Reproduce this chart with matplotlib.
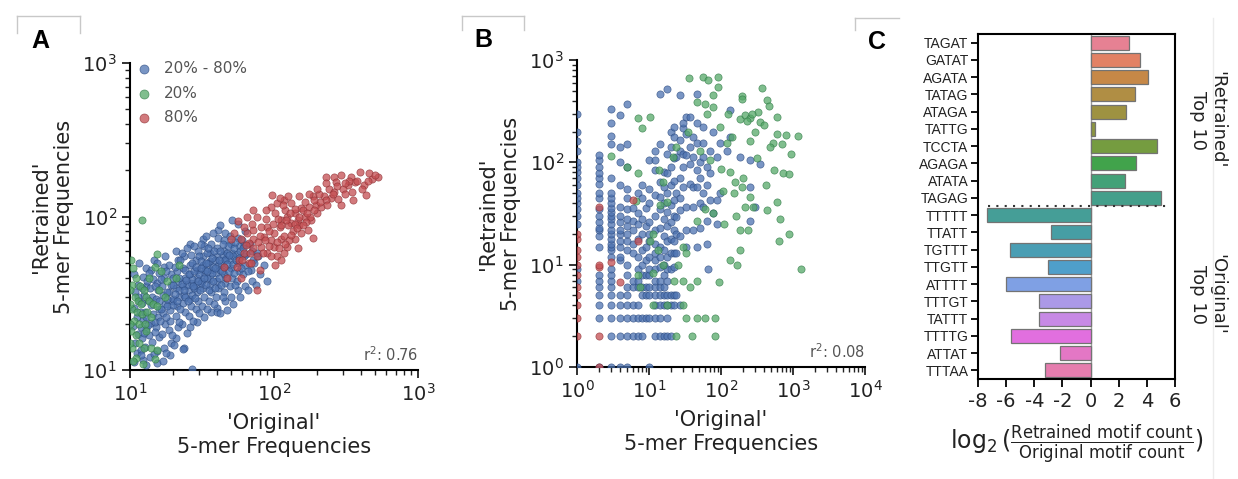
import matplotlib
matplotlib.use('Agg')
import matplotlib.pyplot as plt
import seaborn as sns
from matplotlib.lines import Line2D
from matplotlib.ticker import LogLocator, NullFormatter
from matplotlib.transforms import blended_transform_factory

# ---------------- data ----------------
# Panel A : 'Original' vs 'Retrained' 5-mer frequencies
a_blue = [(10.6,11.3),(11.2,12.9),(10.9,15.1),(11.4,17.2),(10.5,19.4),(11.1,22),(10.7,25.3),(11.5,28),(10.9,32),(11.3,36),(10.6,42),(11.6,50),
          (12.3,11.6),(12.8,14.2),(12.2,16.1),(12.9,18.4),(12.4,21.3),(12.7,24),(12.1,27.5),(12.6,31),(13,35),(12.4,40.5),(12.9,46),
          (13.8,12.1),(14.3,15.2),(13.6,17),(14.1,20.2),(14.5,23),(13.9,26.4),(14.2,30),(13.7,34),(14.4,39),(14,45),(14.6,52),
          (15.3,13.2),(15.8,16.3),(15.1,19),(15.6,22.2),(15.9,25),(15.2,29),(15.7,33),(15.4,37),(16,43),(15.5,50),
          (17.2,14),(16.7,17.2),(17.5,20),(16.9,23.4),(17.4,27),(17,31),(16.6,35),(17.3,40),(17.1,47),(17.6,55),
          (19.3,15),(18.7,18.1),(19.1,21),(18.9,24.5),(19.5,28),(18.6,32),(19.2,36),(19.4,42),(18.8,48),
          (21,16.2),(21.6,19),(20.8,22.4),(21.3,26),(21.8,30),(20.9,34),(21.5,38),(21.2,44),(21.7,52),(21,60),
          (23.6,14),(23.1,20),(24,24),(23.4,27.3),(23.8,31),(23.2,35),(24.2,40),(23.5,46),(23.9,55),
          (26.3,19),(25.7,22.5),(26.6,26),(26,29),(25.8,33),(26.5,37),(26.1,42),(25.9,48),(26.4,56),(26.2,66),
          (29.3,20.5),(28.7,25),(29.6,28),(29,32),(28.8,36),(29.4,40),(29.1,45),(28.9,52),(29.5,60),
          (32.4,22),(31.8,26),(32.7,30),(32,34),(31.7,38),(32.5,43),(32.2,48),(31.9,55),(32.6,64),(32.3,71),
          (36.4,24),(35.6,28),(36.8,32),(36,36),(35.8,40),(36.6,45),(36.2,51),(35.9,58),(36.5,66),
          (40.5,25.5),(39.6,30),(40.9,34),(40.1,38),(39.8,43),(40.7,48),(40.3,55),(39.9,62),(40.6,72),(41,82),
          (45.5,28),(44.6,32),(45.9,37),(45,42),(44.8,47),(45.7,53),(45.2,60),(44.9,70),(45.8,78),
          (50.6,30),(49.5,35),(51,40),(50.2,46),(49.8,52),(50.8,58),(50.3,66),(49.7,75),(51.2,95),
          (56.5,33),(55.4,38),(57,44),(56,50),(55.6,57),(56.8,64),(56.2,72),(55.8,90),
          (62.5,35),(61.4,42),(63,48),(62,55),(61.6,65),(62.8,80),
          (70.5,38),(69.5,45),(71,52),(70,60),(80,42),(78,55),(85,48),(90,38),
          (26.9,10.2),(40,24),(42.5,23.4),(47,24.5),(23.5,13.8),(15.3,11.1),(19,12.5),(17,11.5),(13,10.8),
          (52,27),(58,30),(66,33),(75,36),
          (18,26),(20,29),(22,33),(24,30),(25,36),(27,39),(28,34),(30,42),(31,37),(33,45),(34,40),(35,50),
          (37,43),(38,47),(39,52),(42,45),(43,50),(44,56),(46,52),(47,58),(48,64),(52,55),(53,62),(54,68),
          (58,60),(60,70),(20,36),(22,40),(24,45),(27,50),(30,55),(34,58),(16,28),(18,32),(13,22),(12,19),
          (11.8,24),(14.8,20.5),(16.3,24.8),(13.3,28.5),
          (11.9,13.5),(12.6,17.5),(13.4,19.5),(14.9,17.8),(16.1,20.8),(17.8,22),(18.2,29),(19.8,26.5),(20.4,31.5),
          (21.1,28),(22.4,24.8),(22.8,36.5),(23.9,33),(24.6,38.5),(25.2,28),(25.5,42),(26.8,31),(27.4,35),(27.9,44),
          (28.2,29.5),(28.6,47),(29.8,38),(30.5,33),(30.9,46),(31.2,51),(32.9,40),(33.6,36),(33.8,50),(34.5,44),
          (34.9,62),(35.3,33),(36.9,54),(37.6,38),(38.2,60),(38.9,34),(39.2,46),(41.5,40),(41.8,52),(42.3,60),
          (42.9,36),(43.4,44),(44.1,66),(46.5,40),(47.5,49),(48.5,44),(48.9,56),(51.8,49),(52.5,43),(53.5,36),
          (54.5,52),(57.5,54),(59,46),(60.5,62),(64,57),(66,44),(68,66),(73,50),(76,58),(11.3,30),(12.2,34),
          (13.1,38),(13.6,43),(15,35),(16.4,39),(17.9,44),(19.9,40),(20.5,47),(22.3,52),(23,58),(25,62),(28,64),
          (31,66),(33.5,75),(37.5,78),(42,88),(19.6,17),(21.9,20.5),(24.7,17.5),(27.3,21),(30.2,23.5),(34.2,25),
          (38.5,27),(44,30),(17.8,13),(20.2,14.5),(12,12.5),(14.7,12.8)]
a_green = [(10.2,52),(10.5,46),(11,40),(10.3,36),(11.8,35),(12.5,33),(13,30),(10.8,30),(11.4,28),(12,27),(13.5,28),
           (14.5,27),(15.5,26),(10.4,25),(11.2,24),(12.2,23),(13.2,24),(14,22),(10.6,21),(11.6,20),(12.8,20),(10.2,18),
           (11,17),(13,18),(11.5,15),(12.5,14),(10.3,14),(14,14),(15.5,13.5),(11,12),(12.3,11),(10.5,11.5),(15,11.8),
           (12.1,95),(15.5,57),(14.8,47),(16.5,44),(18,38),(13.5,40),(16,33),(17.5,30),(10,33),(10,27),(10,20),(10,15),
           (22,48),(21,40)]
a_red = [(525,182),(458,192),(398,196),(343,182),(292,187),(263,182),(229,182),(363,169),(324,161),(270,169),(437,138),
         (352,128),(292,119),(248,132),(224,135),(186,135),(196,119),(163,125),(155,113),(139,105),(124,100),(112,95),
         (131,91),(146,95),(163,100),(181,95),(171,82),(186,72),(155,78),(139,71),(146,62),(124,63),(112,71),(100,78),
         (95,116),(97,138),(105,122),(117,128),(131,122),(120,110),(90,86),(85,74),(81,63),(90,58),(100,63),(105,55),
         (117,58),(76,55),(72,71),(67,67),(62,58),(59,71),(65,78),(72,82),(81,86),(56,93),(53,78),(50,71),(76,100),
         (65,100),(72,110),(57,52),(67,50),(55,47),(45,47),(47,40),(59,40),(76,33),(69,50),(200,105),(213,116),(148,135),
         (276,157),(110,85),(125,88),(135,80),(150,88),(95,70),(105,68),(118,75),(128,70),(140,90),(160,110),(175,115),
         (205,140),(240,150),(300,150),(380,170),(420,160),(480,175),(88,96),(102,105),(115,118),(80,75),(92,64),
         (450,170),(500,185),(410,150),(350,145),(330,170),(310,140),(280,130),(260,145),(230,128),(210,125),(190,110),
         (178,100),(168,92),(150,100),(140,112),(130,105),(122,95),(112,88),(106,96),(98,90),(92,80),(86,70),(78,68),
         (72,62),(68,58),(64,65),(60,52),(84,58),(96,55),(108,62),(120,66),(132,76),(145,84),(158,88),(170,105),
         (190,128),(235,118),(255,140),(310,165),(230,165),(200,150),(110,132),(88,110),(70,90),(62,85),(125,135),
         (175,140),(102,48),(112,52),(80,45)]
a_r2 = "r$^2$: 0.76"

# Panel B : columns of (x, [y values]) for the 20%-80% group
b_blue_cols = [(1,[1,7,9,25,30,35,40,45,50,60,70,80,90,100,130,160,200,300]),
               (2,[1,3,4,5,6,7,8,15,19,22,23,26,30,35,45,50,62,70,78,90,105,117]),
               (3,[1,2,3,4,5,6,7,8,9,12,14,15,16,18,20,22,25,28,30,33,36,40,45,50,70,150,180,240,330]),
               (4,[1,2,3,4,5,11,12,15,17,20,22,26,30,37,60,100,140,290]),
               (5,[1,2,3,4,5,6,8,10,14,17,20,24,28,35,45,55,90,150,370]),
               (6,[2,3,4,6,7,13,16,22,27,36]),
               (7,[2,3,4,6,7,9,12,18,25,32,50]),
               (8,[2,3,5,6,8,10,14,20,28,45,60]),
               (9,[3,5,6,8,11,15,24,36]),
               (10,[1,3,5,6,8,9,12,17,20,26,40,55,105]),
               (12,[2,3,4,5,6,7,9,11,13,16,22,30,48,85,105,130]),
               (14,[2,3,4,5,6,7,9.5,12,15,23,35,46,64,150,470]),
               (16,[2,4,5,6,8,10,14,19,28,40,58,80]),
               (18,[2,3,4,5,7,9,12,17,24,33,50,78,120,520]),
               (20,[2,4,5,9,13,18,26,38,60,90,142,200]),
               (22,[4,5,9.5,13,17,22,30,43,66,110,175,220]),
               (24,[5,13,20,29,50,113]),
               (27,[4,19,34,45,70,130,165,455]),
               (30,[57,90,120,215,240]),
               (33,[15,22,37,117,190,280]),
               (37,[62,97,140,275]),
               (41,[22,37,57,113,178]),
               (46,[15,57,84,153,240,470]),
               (51,[23,40,70,100]),
               (57,[37,50,113,153,220]),
               (63,[16,27,60,90]),
               (66,[9]),
               (70,[43,78,130]),
               (78,[32,200]),
               (87,[25,43,113]),
               (97,[50,153]),
               (120,[130]),
               (133,[178,325]),
               (183,[113]),
               (250,[27,57,105]),
               (295,[37]),
               (350,[97])]
b_green = [(36,660),(56,675),(67,635),(92,675),(90,540),(375,530),(194,440),(197,413),(430,408),(460,355),(330,313),
           (590,275),(183,265),(215,290),(250,270),(230,255),(270,300),(1160,182),(795,186),(935,120),(535,155),(480,140),
           (550,84),(720,79),(890,77),(590,41),(430,34),(660,28),(880,20),(635,17),(1290,9),(183,14),(133,11),(165,10),
           (95,6.8),(83,3),(83,2),(60,3),(46,3),(33,3),(39,2),(30,4),(22,7),(37,6),(46,7),(30,7),(7,8),(7.5,6),(11.5,4),
           (17.6,4),(24,2),(7.9,217),(7.1,269),(10.3,276),(3,116),(4.9,90),(7.1,79),(13.9,84),(15.8,64),(21.8,113),(24,142),
           (35,200),(51,130),(70,105),(100,87),(133,81),(156,64),(194,58),(250,46),(280,37),(215,37),(183,22),(240,22),
           (150,50),(108,53),(78,32),(60,35),(46,27),(30,15),(33,13),(25,10),(14,38),(18,41),(11.5,20),(10.3,17),(13.5,14),
           (15.8,10),(11.5,8.2),(6.7,42),(120,153),(141,178),(97,220),(126,300),(63,300),(78,350),(60,375),(46,390),(78,450),
           (300,200),(350,250),(400,230),(600,190),(700,150),(250,160),(320,110),(200,70),(420,60),(160,30),(110,25)]
b_red = [(1,2),(1,3),(1,4),(1,5),(1,6),(1,8),(1,10),(1,12),(1,14),(1,18),(1,20),
         (2,37),(5.9,43),(7.1,17),(3,10.7),(2,9.5),(2,10),(4,6.8),(2,2),(2,1)]
b_r2 = "r$^2$: 0.08"

a_ticks = [10, 100, 1000]
b_xticks = [1, 10, 100, 1000, 10000]
b_yticks = [1, 10, 100, 1000]

# Panel C : log2 fold change of motif counts
motifs = ['TAGAT','GATAT','AGATA','TATAG','ATAGA','TATTG','TCCTA','AGAGA','ATATA','TAGAG',
          'TTTTT','TTATT','TGTTT','TTGTT','ATTTT','TTTGT','TATTT','TTTTG','ATTAT','TTTAA']
log2_ratio = [2.73, 3.5, 4.06, 3.16, 2.5, 0.3, 4.73, 3.25, 2.45, 5.0,
              -7.34, -2.8, -5.75, -3.06, -5.99, -3.7, -3.7, -5.65, -2.19, -3.23]
c_xticks = [-8, -6, -4, -2, 0, 2, 4, 6]
group_labels = ["'Retrained'\nTop 10", "'Original'\nTop 10"]
legend_labels = ['20% - 80%', '20%', '80%']

# ---------------- figure ----------------
W, H = 1238, 479
fig = plt.figure(figsize=(W/100, H/100), dpi=100)

def axes_px(l, t, r, b):
    return fig.add_axes([l/W, 1-b/H, (r-l)/W, (b-t)/H])

BLUE, GREEN, RED = '#4C72B0', '#55A868', '#C44E52'
EDGE = {BLUE: '#2b4a80', GREEN: '#2f7a45', RED: '#8e2f33'}
TXT = '#222222'

def scatter(ax, pts, color, label=None):
    xs = [p[0] for p in pts]; ys = [p[1] for p in pts]
    ax.scatter(xs, ys, s=27, c=color, alpha=0.75, edgecolors=EDGE[color], linewidths=0.5, label=label, zorder=3)

def style_log(ax, xt, yt):
    ax.set_xscale('log'); ax.set_yscale('log')
    ax.set_xticks(xt); ax.set_yticks(yt)
    for axis in (ax.xaxis, ax.yaxis):
        axis.set_minor_locator(LogLocator(base=10, subs=range(2, 10), numticks=20))
        axis.set_minor_formatter(NullFormatter())
    for s in ['top', 'right']:
        ax.spines[s].set_visible(False)
    for s in ['left', 'bottom']:
        ax.spines[s].set_linewidth(1.5)
    ax.tick_params(which='major', length=6, width=1.3, labelsize=14, colors=TXT)
    ax.tick_params(which='minor', length=3.5, width=1.0, colors=TXT)

# Panel A
axA = axes_px(130, 63, 418, 370)
scatter(axA, a_blue, BLUE, legend_labels[0])
scatter(axA, a_green, GREEN, legend_labels[1])
scatter(axA, a_red, RED, legend_labels[2])
style_log(axA, a_ticks, a_ticks)
axA.set_xlim(10, 1000); axA.set_ylim(10, 1000)
axA.set_xlabel("'Original'\n5-mer Frequencies", fontsize=15, color=TXT, labelpad=6)
axA.set_ylabel("'Retrained'\n5-mer Frequencies", fontsize=15, color=TXT, labelpad=6)
axA.text(1.0, 0.02, a_r2, transform=axA.transAxes, ha='right', va='bottom', fontsize=10.5, color='#555555')
leg = axA.legend(loc='upper left', bbox_to_anchor=(-0.035, 1.035), frameon=False, fontsize=11,
                 handletextpad=0.3, labelspacing=0.6, borderaxespad=0.2, markerscale=1.25)
for t in leg.get_texts():
    t.set_color('#555555')

# Panel B
axB = axes_px(577, 60, 865, 367)
for x, ys in b_blue_cols:
    scatter(axB, [(x, y) for y in ys], BLUE)
scatter(axB, b_green, GREEN)
scatter(axB, b_red, RED)
style_log(axB, b_xticks, b_yticks)
axB.set_xlim(1, 10000); axB.set_ylim(1, 1000)
axB.set_xlabel("'Original'\n5-mer Frequencies", fontsize=15, color=TXT, labelpad=6)
axB.set_ylabel("'Retrained'\n5-mer Frequencies", fontsize=15, color=TXT, labelpad=6)
axB.text(1.0, 0.02, b_r2, transform=axB.transAxes, ha='right', va='bottom', fontsize=10.5, color='#555555')

# Panel C
axC = axes_px(978, 34, 1175, 379)
pal = [sns.desaturate(c, 0.75) for c in sns.color_palette('husl', len(motifs))]
ypos = list(range(len(motifs)))
axC.barh(ypos, log2_ratio, height=0.8, color=pal, edgecolor='0.45', linewidth=0.9, zorder=2)
axC.axvline(0, color='0.6', lw=1.0, zorder=1)
axC.plot([-7.3, 5.55], [9.5, 9.5], color='0.2', lw=1.5, ls=(0, (1, 3)), zorder=3)
axC.set_ylim(len(motifs)-0.5, -0.5)
axC.set_xlim(-8, 6)
axC.set_yticks(ypos)
axC.set_yticklabels(motifs, fontsize=10, family=['Liberation Sans Narrow', 'Liberation Sans'], color='#222222')
axC.set_xticks(c_xticks)
axC.set_xticklabels([str(v) for v in c_xticks], fontsize=14, color=TXT)
for s in axC.spines.values():
    s.set_linewidth(1.5)
axC.tick_params(axis='y', length=5, width=1.3, pad=2)
axC.tick_params(axis='x', length=6, width=1.3)
axC.set_xlabel(r'$\log_2(\frac{\mathrm{Retrained\ motif\ count}}{\mathrm{Original\ motif\ count}})$',
               fontsize=17, color=TXT, labelpad=8)
tr = blended_transform_factory(axC.transAxes, axC.transData)
axC.text(1.165, 4.5, group_labels[0], transform=tr, rotation=270, ha='center', va='center', fontsize=13,
         color=TXT, linespacing=1.1)
axC.text(1.165, 14.6, group_labels[1], transform=tr, rotation=270, ha='center', va='center', fontsize=13,
         color=TXT, linespacing=1.1)

# panel letters
for lab, px, py in [('A', 40, 41), ('B', 483, 40), ('C', 877, 42)]:
    fig.text(px/W, 1-py/H, lab, fontsize=18, fontweight='bold', family='Liberation Sans', ha='center', va='center')

# faint frame fragments around panel letters
def fline(x0, y0, x1, y1, c='#c8c8c8'):
    fig.add_artist(Line2D([x0/W, x1/W], [1-y0/H, 1-y1/H], color=c, lw=1))
fline(17, 16, 80, 16); fline(17, 16, 17, 33); fline(80, 16, 80, 33)
fline(462, 16, 524, 16); fline(462, 16, 462, 30); fline(524, 16, 524, 30)
fline(855, 18, 899, 18); fline(855, 18, 855, 30)
fline(1213, 18, 1213, 479, '#ececec')

fig.savefig('out.png', dpi=100)
